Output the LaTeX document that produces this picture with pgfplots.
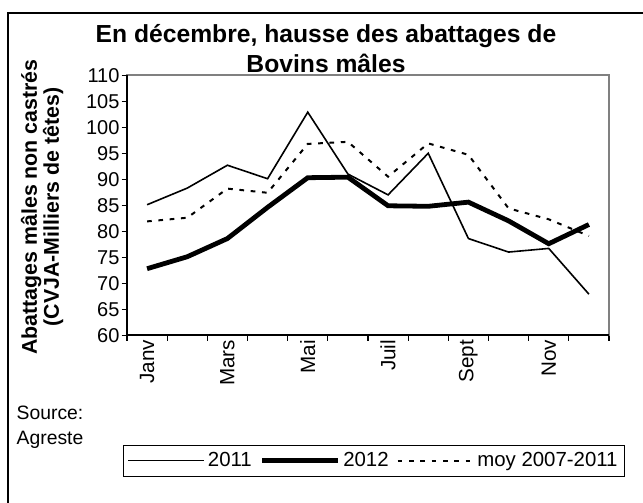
\documentclass[border=0pt]{standalone}
\usepackage{fontspec}
\setmainfont{Liberation Sans}
\usepackage{pgfplots}
\pgfplotsset{compat=1.18}
\begin{document}
\begin{tikzpicture}
\useasboundingbox (0pt,0pt) rectangle (482.25pt,377.25pt);
% outer chart border (left and top visible)
\draw[black, line width=1.4pt] (6pt,0pt) -- (6pt,367.5pt) -- (482.25pt,367.5pt);
\begin{axis}[
  at={(95.25pt,125.8pt)}, anchor=south west,
  scale only axis, width=361.5pt, height=195pt,
  xmin=0.5, xmax=12.5, ymin=60, ymax=110,
  ytick={60,65,...,110},
  xtick={0.5,1.5,...,12.5},
  xticklabels={},
  extra x ticks={1,3,5,7,9,11},
  extra x tick labels={Janv,Mars,Mai,Juil,Sept,Nov},
  extra x tick style={major tick length=0pt, tick style={draw=none}},
  x tick label style={rotate=90, anchor=east, font=\fontsize{15.5}{17}\selectfont},
  y tick label style={font=\fontsize{15}{17}\selectfont, inner xsep=1.5pt},
  /pgf/number format/assume math mode=true,
  tick pos=left,
  tick align=outside,
  major tick length=4pt,
  tick style={black, line width=0.9pt},
  axis line style={draw=gray, line width=1.6pt},
  clip=false,
  legend columns=3,
  legend style={draw=black, line width=0.7pt, at={(0.5124,-0.482)}, anchor=center,
    font=\fontsize{15.3}{17}\selectfont, inner xsep=3pt, inner ysep=3.5pt,
    /tikz/every even column/.append style={column sep=4pt}},
  legend image code/.code={\draw[#1] (0pt,0pt) -- (57pt,0pt);},
]
\addplot[black, line width=1.2pt, mark=none] coordinates {
(1,85.1) (2,88.3) (3,92.7) (4,90.1) (5,102.9) (6,91.0) (7,87.0) (8,95.0) (9,78.6) (10,76.0) (11,76.7) (12,67.9)};
\addlegendentry{2011}
\addplot[black, line width=3.6pt, mark=none] coordinates {
(1,72.8) (2,75.1) (3,78.6) (4,84.6) (5,90.3) (6,90.4) (7,84.9) (8,84.8) (9,85.6) (10,82.0) (11,77.6) (12,81.3)};
\addlegendentry{2012}
\addplot[black, line width=1.5pt, dash pattern=on 3.5pt off 5pt, mark=none] coordinates {
(1,81.9) (2,82.6) (3,88.2) (4,87.4) (5,96.8) (6,97.2) (7,90.5) (8,96.9) (9,94.7) (10,84.4) (11,82.3) (12,79.1)};
\addlegendentry{moy 2007-2011}
\draw[black, line width=1.4pt] (rel axis cs:0,1) -- (rel axis cs:0,0) -- (rel axis cs:1,0);
\end{axis}
\node[anchor=base, font=\fontsize{18.5}{22}\selectfont\bfseries] at (244.5pt,345pt) {En décembre, hausse des abattages de};
\node[anchor=base, font=\fontsize{18.5}{22}\selectfont\bfseries] at (244.5pt,322.5pt) {Bovins mâles};
\node[rotate=90, align=center, font=\fontsize{16}{16.5}\selectfont\bfseries] at (31.5pt,222pt) {Abattages mâles non castrés\\(CVJA-Milliers de têtes)};
\node[anchor=west, font=\fontsize{14.5}{17}\selectfont] at (9pt,67.5pt) {Source:};
\node[anchor=west, font=\fontsize{14.5}{17}\selectfont] at (9pt,47.25pt) {Agreste};
\end{tikzpicture}
\end{document}
